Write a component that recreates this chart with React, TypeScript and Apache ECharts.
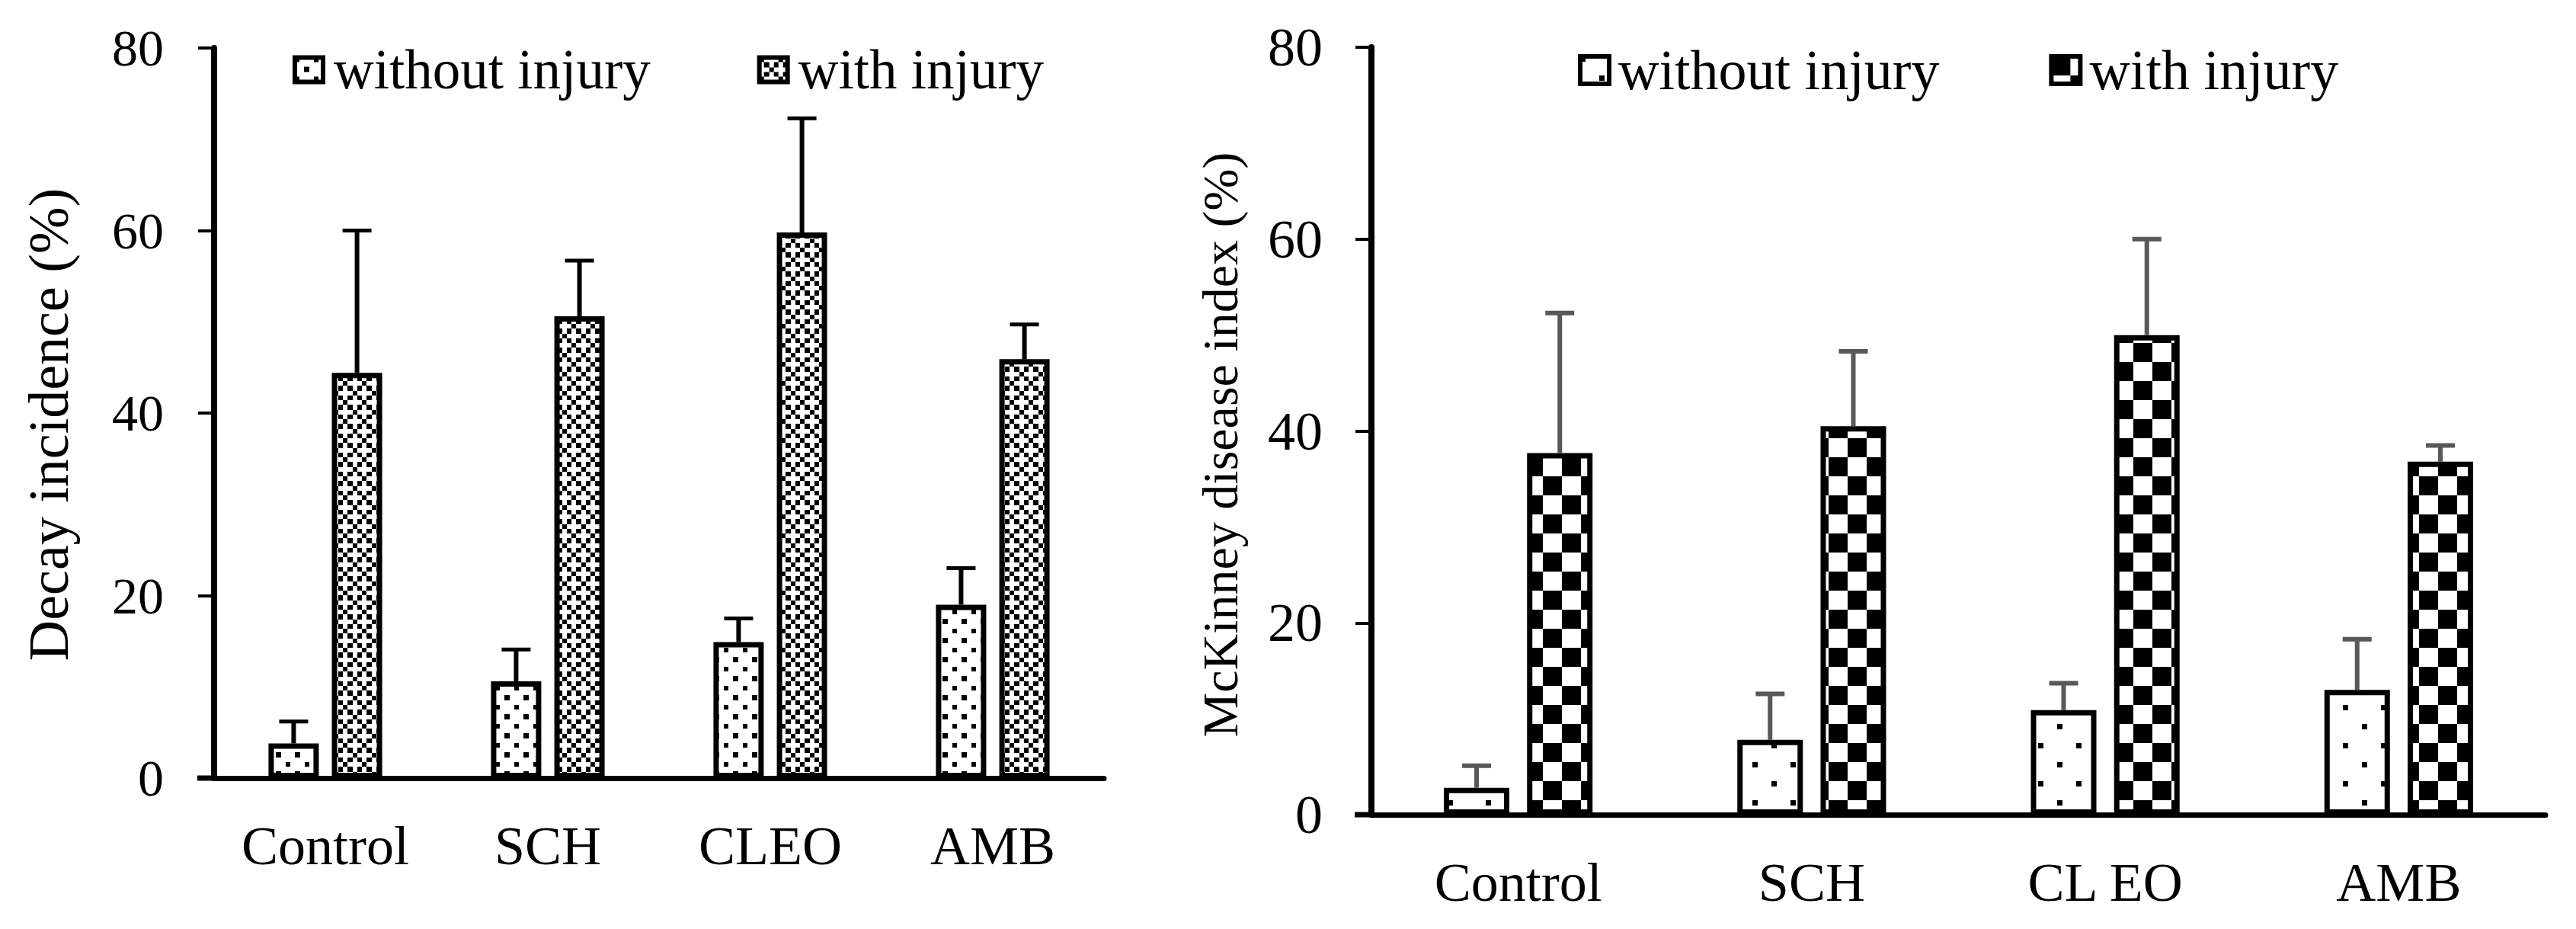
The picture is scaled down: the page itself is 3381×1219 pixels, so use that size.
import React, { useEffect, useRef } from 'react';
import * as echarts from 'echarts';

// Treatments on the category axes
const treatmentsLeft = ['Control', 'SCH', 'CLEO', 'AMB'];
const treatmentsRight = ['Control', 'SCH', 'CL EO', 'AMB'];
const groupNames = ['without injury', 'with injury'];
const yTickValues = [0, 20, 40, 60, 80];

// Decay incidence (%), means and standard errors
const decayWithout = [3.8, 10.6, 14.9, 19.0];
const decayWithoutErr = [2.4, 3.5, 2.6, 4.0];
const decayWith = [44.4, 50.6, 59.8, 45.9];
const decayWithErr = [15.6, 6.1, 12.5, 3.8];

// McKinney disease index (%), means and standard errors
const mckWithout = [2.8, 7.8, 10.9, 13.0];
const mckWithoutErr = [2.3, 4.8, 2.8, 5.3];
const mckWith = [37.7, 40.5, 50.0, 36.8];
const mckWithErr = [14.6, 7.8, 10.0, 1.7];

const FONT = '"Liberation Serif", "Times New Roman", serif';

// Plot areas (pixels)
const GRID_A = { left: 281, top: 63, width: 1168, height: 958 };
const GRID_B = { left: 1800, top: 62, width: 1541, height: 1007 };

const BAR_A = 66;
const GAP_A = 0.26;
const BAR_B = 86;
const GAP_B = 0.27;

type Cell = [number, number, number, number];

function tile(w: number, h: number, cells: Cell[]) {
  const c = document.createElement('canvas');
  c.width = w;
  c.height = h;
  const ctx = c.getContext('2d')!;
  ctx.fillStyle = '#ffffff';
  ctx.fillRect(0, 0, w, h);
  ctx.fillStyle = '#000000';
  cells.forEach(([x, y, cw, ch]) => ctx.fillRect(x, y, cw, ch));
  return { image: c, repeat: 'repeat' };
}

function makePatterns() {
  // fine staggered dots
  const dotsFine = tile(25, 25, [
    [0, 0, 6, 6],
    [12, 12, 7, 7],
  ]);
  // diagonal lattice of small squares
  const b = [0, 6, 13, 19, 25];
  const sq = (r: number, c: number): Cell => [b[c], b[r], b[c + 1] - b[c], b[r + 1] - b[r]];
  const lattice = tile(25, 25, [sq(0, 0), sq(1, 1), sq(1, 3), sq(2, 2), sq(3, 1), sq(3, 3)]);
  // sparse staggered dots
  const dotsSparse = tile(50, 50, [
    [0, 0, 7, 7],
    [25, 25, 7, 7],
  ]);
  // large checkerboard
  const checker = tile(50, 50, [
    [0, 0, 25, 25],
    [25, 25, 25, 25],
  ]);
  return { dotsFine, lattice, dotsSparse, checker };
}

function errorBars(
  gridIndex: number,
  means: number[],
  errs: number[],
  side: number,
  barW: number,
  gap: number,
  color: string,
  stemW: number,
  capW: number
) {
  return {
    type: 'custom',
    name: 'err' + gridIndex + side,
    xAxisIndex: gridIndex,
    yAxisIndex: gridIndex,
    z: 5,
    silent: true,
    data: means.map((m, i) => [i, m, m + errs[i]]),
    encode: { x: 0, y: [1, 2] },
    renderItem: (params: any, api: any) => {
      const idx = api.value(0);
      const base = api.coord([idx, api.value(1)]);
      const top = api.coord([idx, api.value(2)]);
      const x = base[0] + (side * (barW + barW * gap)) / 2;
      const half = 19;
      return {
        type: 'group',
        children: [
          {
            type: 'line',
            shape: { x1: x, y1: base[1], x2: x, y2: top[1] },
            style: { stroke: color, lineWidth: stemW },
          },
          {
            type: 'line',
            shape: { x1: x - half, y1: top[1], x2: x + half, y2: top[1] },
            style: { stroke: color, lineWidth: capW },
          },
        ],
      };
    },
  };
}

function valueAxis(gridIndex: number, name: string, nameSize: number, nameGap: number, shift: number, labelSize: number, margin: number) {
  return {
    type: 'value',
    gridIndex,
    min: 0,
    max: yTickValues[yTickValues.length - 1],
    interval: yTickValues[1] - yTickValues[0],
    name,
    nameLocation: 'middle',
    nameGap,
    nameRotate: 90,
    nameTextStyle: { fontSize: nameSize, fontFamily: FONT, color: '#000', padding: [0, shift, 0, 0] },
    splitLine: { show: false },
    axisLine: { show: true, lineStyle: { color: '#000', width: 8 } },
    axisTick: { show: true, inside: false, length: 21, lineStyle: { color: '#000', width: 4 } },
    axisLabel: { fontSize: labelSize, fontFamily: FONT, color: '#000', margin },
  };
}

function categoryAxis(gridIndex: number, data: string[]) {
  return {
    type: 'category',
    gridIndex,
    data,
    boundaryGap: true,
    axisLine: { show: true, lineStyle: { color: '#000', width: 7 } },
    axisTick: { show: false },
    axisLabel: { fontSize: 72, fontFamily: FONT, color: '#000', margin: 53, interval: 0 },
  };
}

export default function App() {
  const ref = useRef<HTMLDivElement>(null);

  useEffect(() => {
    if (!ref.current) return;
    const chart = echarts.init(ref.current, undefined, { renderer: 'svg' });
    const p = makePatterns();
    const border = { borderColor: '#000', borderWidth: 7 };
    const rightSuffix = ' ';

    const option: any = {
      animation: false,
      backgroundColor: '#ffffff',
      textStyle: { fontFamily: FONT, color: '#000' },
      grid: [
        { ...GRID_A, containLabel: false },
        { ...GRID_B, containLabel: false },
      ],
      legend: [
        {
          left: 379,
          top: 50,
          icon: 'rect',
          itemWidth: 37,
          itemHeight: 32,
          itemGap: 140,
          selectedMode: false,
          itemStyle: { borderColor: '#000', borderWidth: 6 },
          textStyle: { fontSize: 73, fontFamily: FONT, color: '#000', padding: [0, 0, 0, 9] },
          data: [groupNames[0], groupNames[1]],
        },
        {
          left: 2066,
          top: 50,
          icon: 'rect',
          itemWidth: 38,
          itemHeight: 36,
          itemGap: 144,
          selectedMode: false,
          itemStyle: { borderColor: '#000', borderWidth: 6 },
          textStyle: { fontSize: 74, fontFamily: FONT, color: '#000', padding: [0, 0, 0, 7] },
          formatter: (n: string) => n.trim(),
          data: [groupNames[0] + rightSuffix, groupNames[1] + rightSuffix],
        },
      ],
      xAxis: [categoryAxis(0, treatmentsLeft), categoryAxis(1, treatmentsRight)],
      yAxis: [
        valueAxis(0, 'Decay incidence (%)', 74, 180, 30, 68, 66),
        valueAxis(1, 'McKinney disease index (%)', 66, 166, 36, 72, 64),
      ],
      series: [
        {
          type: 'bar',
          name: groupNames[0],
          xAxisIndex: 0,
          yAxisIndex: 0,
          data: decayWithout,
          barWidth: BAR_A,
          barGap: GAP_A * 100 + '%',
          itemStyle: { color: p.dotsFine, ...border },
        },
        {
          type: 'bar',
          name: groupNames[1],
          xAxisIndex: 0,
          yAxisIndex: 0,
          data: decayWith,
          barWidth: BAR_A,
          barGap: GAP_A * 100 + '%',
          itemStyle: { color: p.lattice, ...border },
        },
        {
          type: 'bar',
          name: groupNames[0] + rightSuffix,
          xAxisIndex: 1,
          yAxisIndex: 1,
          data: mckWithout,
          barWidth: BAR_B,
          barGap: GAP_B * 100 + '%',
          itemStyle: { color: p.dotsSparse, ...border },
        },
        {
          type: 'bar',
          name: groupNames[1] + rightSuffix,
          xAxisIndex: 1,
          yAxisIndex: 1,
          data: mckWith,
          barWidth: BAR_B,
          barGap: GAP_B * 100 + '%',
          itemStyle: { color: p.checker, ...border },
        },
        errorBars(0, decayWithout, decayWithoutErr, -1, BAR_A, GAP_A, '#000', 6, 5),
        errorBars(0, decayWith, decayWithErr, 1, BAR_A, GAP_A, '#000', 6, 5),
        errorBars(1, mckWithout, mckWithoutErr, -1, BAR_B, GAP_B, '#595959', 6, 6),
        errorBars(1, mckWith, mckWithErr, 1, BAR_B, GAP_B, '#595959', 6, 6),
      ],
      graphic: [
        // short run of the category axis line to the left of the value axis
        {
          type: 'line',
          shape: {
            x1: GRID_A.left - 22,
            y1: GRID_A.top + GRID_A.height,
            x2: GRID_A.left,
            y2: GRID_A.top + GRID_A.height,
          },
          style: { stroke: '#000', lineWidth: 7 },
        },
        {
          type: 'line',
          shape: {
            x1: GRID_B.left - 22,
            y1: GRID_B.top + GRID_B.height,
            x2: GRID_B.left,
            y2: GRID_B.top + GRID_B.height,
          },
          style: { stroke: '#000', lineWidth: 7 },
        },
      ],
    };

    chart.setOption(option);
    return () => chart.dispose();
  }, []);

  return (
    <div
      ref={ref}
      style={{ position: 'fixed', left: 0, top: 0, width: 3381, height: 1219, background: '#fff' }}
    />
  );
}
